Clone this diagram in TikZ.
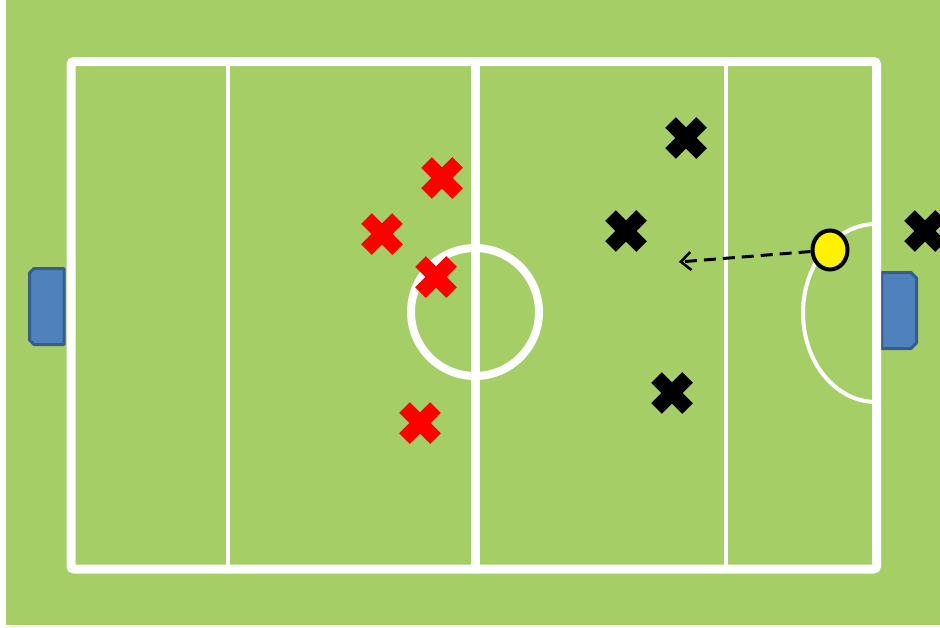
\documentclass[tikz,border=0pt]{standalone}
\usetikzlibrary{shapes.misc,shapes.geometric,arrows.meta}
\definecolor{pitchgreen}{RGB}{166,206,102}
\definecolor{goalfill}{RGB}{79,129,189}
\definecolor{goaldraw}{RGB}{56,93,138}
\begin{document}
\begin{tikzpicture}[x=1pt,y=-1pt,
  thickline/.style={draw=white, line width=9pt},
  thinline/.style={draw=white, line width=4pt},
  goalbox/.style={fill=goalfill, draw=goaldraw, line width=3pt, line join=round},
  playerx/.style={cross out, line width=15pt, minimum size=31pt, inner sep=0pt, outer sep=0pt},
  redx/.style={playerx, draw=red},
  blackx/.style={playerx, draw=black},
  ballstyle/.style={ellipse, draw=black, fill=yellow, line width=4pt, minimum width=35pt, minimum height=39pt, inner sep=0pt},
  passarrow/.style={draw=black, line width=3pt, dash pattern=on 12pt off 7pt, -{Straight Barb[length=10pt,width=18pt,line width=2.5pt]}}
]
\useasboundingbox (0,0) rectangle (940,627);
\fill[white] (0,0) rectangle (940,627);
\fill[pitchgreen] (6,0) rectangle (940,625);
% goals
\draw[goalbox] (64,268.5) -- (34,268.5) -- (29.5,273) -- (29.5,340) -- (34,344.5) -- (64,344.5) -- cycle;
\draw[goalbox] (881.5,272.5) -- (911,272.5) -- (916.5,278) -- (916.5,343) -- (911,348.5) -- (881.5,348.5) -- cycle;
% pitch lines
\draw[thinline] (228,62) -- (228,569);
\draw[thinline] (726,62) -- (726,569);
\draw[thickline] (475,62) -- (475,569);
\draw[thickline, rounded corners=3pt] (71,61.5) rectangle (876.5,569);
\draw[thickline, line width=8pt] (475,312) circle[radius=64pt];
\draw[thinline] (876,224) arc[start angle=90, end angle=270, x radius=73pt, y radius=89pt];
% players
\node[redx] (r1) at (442,178) {};
\node[redx] (r2) at (382,234) {};
\node[redx] (r3) at (436,277) {};
\node[redx] (r4) at (420,423) {};
\node[blackx] (b1) at (686,138) {};
\node[blackx] (b2) at (626,231) {};
\node[blackx] (b3) at (672,393) {};
\node[blackx] (b4) at (925,231) {};
% ball and pass
\node[ballstyle] (ball) at (830,250) {};
\coordinate (tip) at (679,262);
\draw[passarrow] (ball) -- (tip);
\end{tikzpicture}
\end{document}
